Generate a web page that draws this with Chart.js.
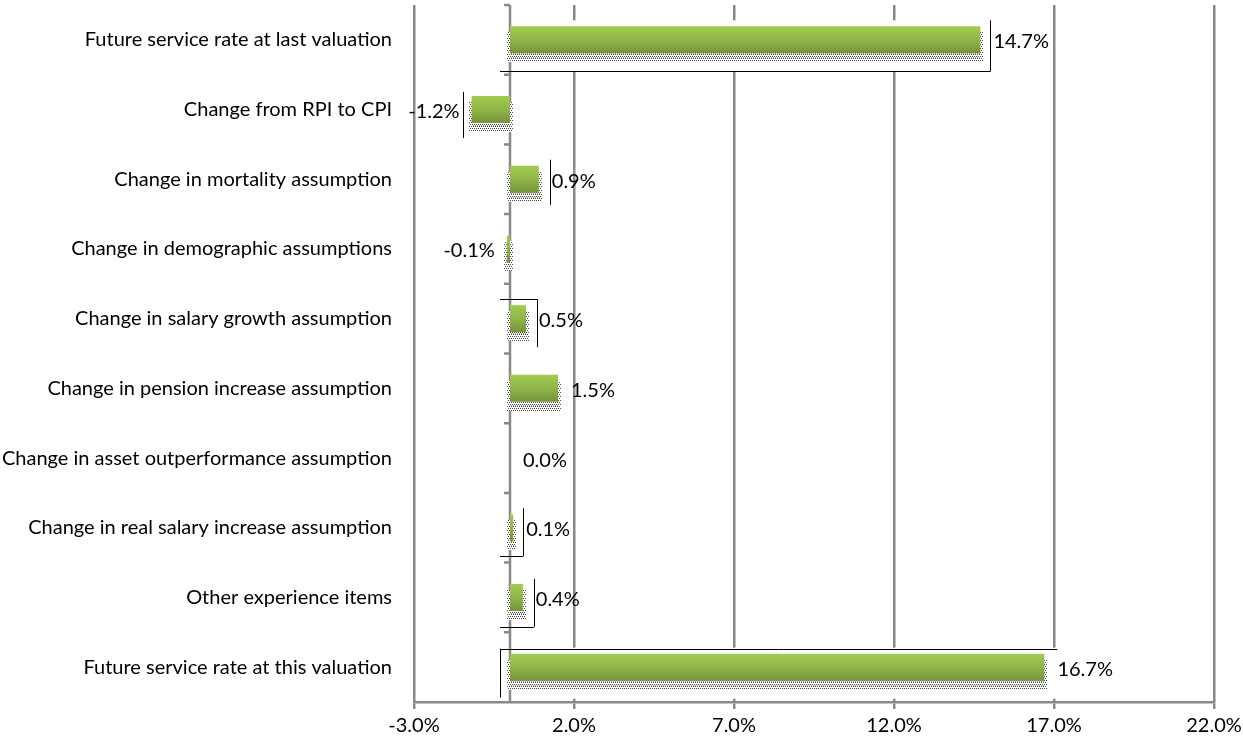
<!DOCTYPE html>
<html><head><meta charset="utf-8">
<script src="https://cdn.jsdelivr.net/npm/chart.js@4"></script>
<style>html,body{margin:0;padding:0;background:#fff}#wrap{width:1243px;height:749px;position:relative}</style>
</head><body><div id="wrap"><canvas id="c"></canvas></div>
<script>
const categories = [
  'Future service rate at last valuation',
  'Change from RPI to CPI',
  'Change in mortality assumption',
  'Change in demographic assumptions',
  'Change in salary growth assumption',
  'Change in pension increase assumption',
  'Change in asset outperformance assumption',
  'Change in real salary increase assumption',
  'Other experience items',
  'Future service rate at this valuation'
];
const values = [14.7, -1.2, 0.9, -0.1, 0.5, 1.5, 0.0, 0.1, 0.4, 16.7];
const xMin = -3, xMax = 22, xStep = 5;

const FONT = 'Lato, "Liberation Sans", sans-serif';
const FSIZE = 20;
const GRID = '#898989';

function makePattern(dense) {
  const p = document.createElement('canvas');
  p.width = 4; p.height = 4;
  const g = p.getContext('2d');
  g.fillStyle = '#ffffff'; g.fillRect(0, 0, 4, 4);
  g.fillStyle = '#474747';
  g.fillRect(0, 0, 1, 1); g.fillRect(2, 0, 1, 1);
  g.fillRect(1, 2, 1, 1); g.fillRect(3, 2, 1, 1);
  if (dense) {
    g.fillStyle = '#9a9a9a';
    g.fillRect(1, 1, 1, 1); g.fillRect(3, 1, 1, 1);
  }
  return p;
}
const patSparse = makePattern(false);
const patDense = makePattern(true);

const frames = {
  0: {box: true, v: ['end', 10, -6, 18], h: [18, -10, 'end', 10]},
  1: {v: ['end', -9, -4, 15]},
  2: {v: ['end', 11, -6, 12]},
  4: {h: [-6, -10, 'end', 11], v: ['end', 11, -6, 15], hTop: true},
  7: {v: ['end', 10, -6, 15], h: [15, -10, 'end', 10]},
  8: {v: ['end', 11, -5, 16], h: [16, -10, 'end', 11]},
  9: {box: true, h: [-5, -10, 'end', 13], v: ['zero', -10, -5, 17], hTop: true}
};

const decor = {
  id: 'decor',
  beforeDatasetsDraw(chart) {
    const c = chart.ctx, xs = chart.scales.x, ca = chart.chartArea;
    const meta = chart.getDatasetMeta(0);
    const x0 = xs.getPixelForValue(0);
    c.save();
    meta.data.forEach((el, i) => {
      const f = frames[i];
      if (!f || !f.box) return;
      const h = el.height, yt = el.y - h / 2, yb = el.y + h / 2;
      c.fillStyle = '#fff';
      c.fillRect(x0 - 10, yt - 6, el.x + 70 - (x0 - 10), (yb + 18) - (yt - 6));
    });
    c.strokeStyle = GRID; c.lineWidth = 2.5;
    c.beginPath(); c.moveTo(x0, ca.top); c.lineTo(x0, ca.bottom); c.stroke();
    const n = categories.length, step = (ca.bottom - ca.top) / n;
    c.beginPath();
    for (let k = 0; k < n; k++) {
      const y = ca.top + k * step;
      c.moveTo(x0 - 6, y); c.lineTo(x0, y);
    }
    c.stroke();
    const ps = c.createPattern(patSparse, 'repeat');
    const pd = c.createPattern(patDense, 'repeat');
    meta.data.forEach((el) => {
      const h = el.height, yt = Math.round(el.y - h / 2), yb = Math.round(el.y + h / 2);
      const l = Math.round(Math.min(el.x, el.base)), r = Math.round(Math.max(el.x, el.base));
      if (r - l < 0.5) return;
      c.fillStyle = ps;
      c.fillRect(l - 3, yt + 6, (r - l) + 6, (yb + 9) - (yt + 6));
      c.fillStyle = pd;
      c.fillRect(l + 1, yb, (r - l), 5);
    });
    c.restore();
  },
  afterDatasetsDraw(chart) {
    const c = chart.ctx, xs = chart.scales.x;
    const meta = chart.getDatasetMeta(0);
    const x0 = xs.getPixelForValue(0);
    c.save();
    c.strokeStyle = '#000'; c.lineWidth = 1;
    meta.data.forEach((el, i) => {
      const f = frames[i];
      const h = el.height, yt = el.y - h / 2, yb = el.y + h / 2;
      if (f) {
        const px = (ref, off) => (ref === 'end' ? el.x : x0) + off;
        if (f.v) {
          const x = Math.round(px(f.v[0], f.v[1])) + 0.5;
          c.beginPath(); c.moveTo(x, yt + f.v[2]); c.lineTo(x, yb + f.v[3]); c.stroke();
        }
        if (f.h) {
          const yy = Math.round(f.hTop ? yt + f.h[0] : yb + f.h[0]) + 0.5;
          c.beginPath(); c.moveTo(x0 + f.h[1], yy); c.lineTo(px(f.h[2], f.h[3]), yy); c.stroke();
        }
      }
      const v = values[i];
      c.fillStyle = '#000';
      c.font = FSIZE + 'px ' + FONT;
      c.textBaseline = 'middle';
      const txt = v.toFixed(1) + '%';
      if (v < 0) { c.textAlign = 'right'; c.fillText(txt, el.x - 12, el.y + 2); }
      else { c.textAlign = 'left'; c.fillText(txt, el.x + 13, el.y + 2); }
    });
    c.restore();
  }
};

new Chart(document.getElementById('c'), {
  type: 'bar',
  data: {
    labels: categories,
    datasets: [{
      data: values,
      barPercentage: 0.387,
      categoryPercentage: 1.0,
      borderWidth: 0,
      backgroundColor: (ctx) => {
        const chart = ctx.chart, ca = chart.chartArea;
        if (!ca || !chart.scales.y) return '#8fb548';
        const yc = chart.scales.y.getPixelForValue(ctx.dataIndex);
        const hh = (ca.bottom - ca.top) / categories.length * 0.387 / 2;
        const g = chart.ctx.createLinearGradient(0, yc - hh, 0, yc + hh);
        g.addColorStop(0, '#a3cb50');
        g.addColorStop(0.5, '#8fb547');
        g.addColorStop(1, '#76933c');
        return g;
      }
    }]
  },
  plugins: [decor],
  options: {
    indexAxis: 'y',
    responsive: true,
    maintainAspectRatio: false,
    animation: false,
    layout: {padding: {left: 0, right: 29, top: 5, bottom: 0}},
    plugins: {legend: {display: false}, tooltip: {enabled: false}},
    scales: {
      x: {
        type: 'linear', min: xMin, max: xMax,
        ticks: {stepSize: xStep, color: '#000', font: {family: FONT, size: FSIZE}, padding: 5,
          callback: (v) => Number(v).toFixed(1) + '%'},
        grid: {color: GRID, lineWidth: 2.5, tickLength: 7, drawTicks: true},
        border: {color: GRID, width: 2.5},
        afterFit: (s) => { s.height = 47; s.paddingLeft = 0; s.paddingRight = 0; }
      },
      y: {
        ticks: {color: '#000', font: {family: FONT, size: FSIZE}, padding: 22},
        grid: {display: false, drawTicks: false},
        border: {display: false},
        afterFit: (s) => { s.width = 414; s.paddingTop = 0; s.paddingBottom = 0; }
      }
    }
  }
});
</script>
</body></html>
